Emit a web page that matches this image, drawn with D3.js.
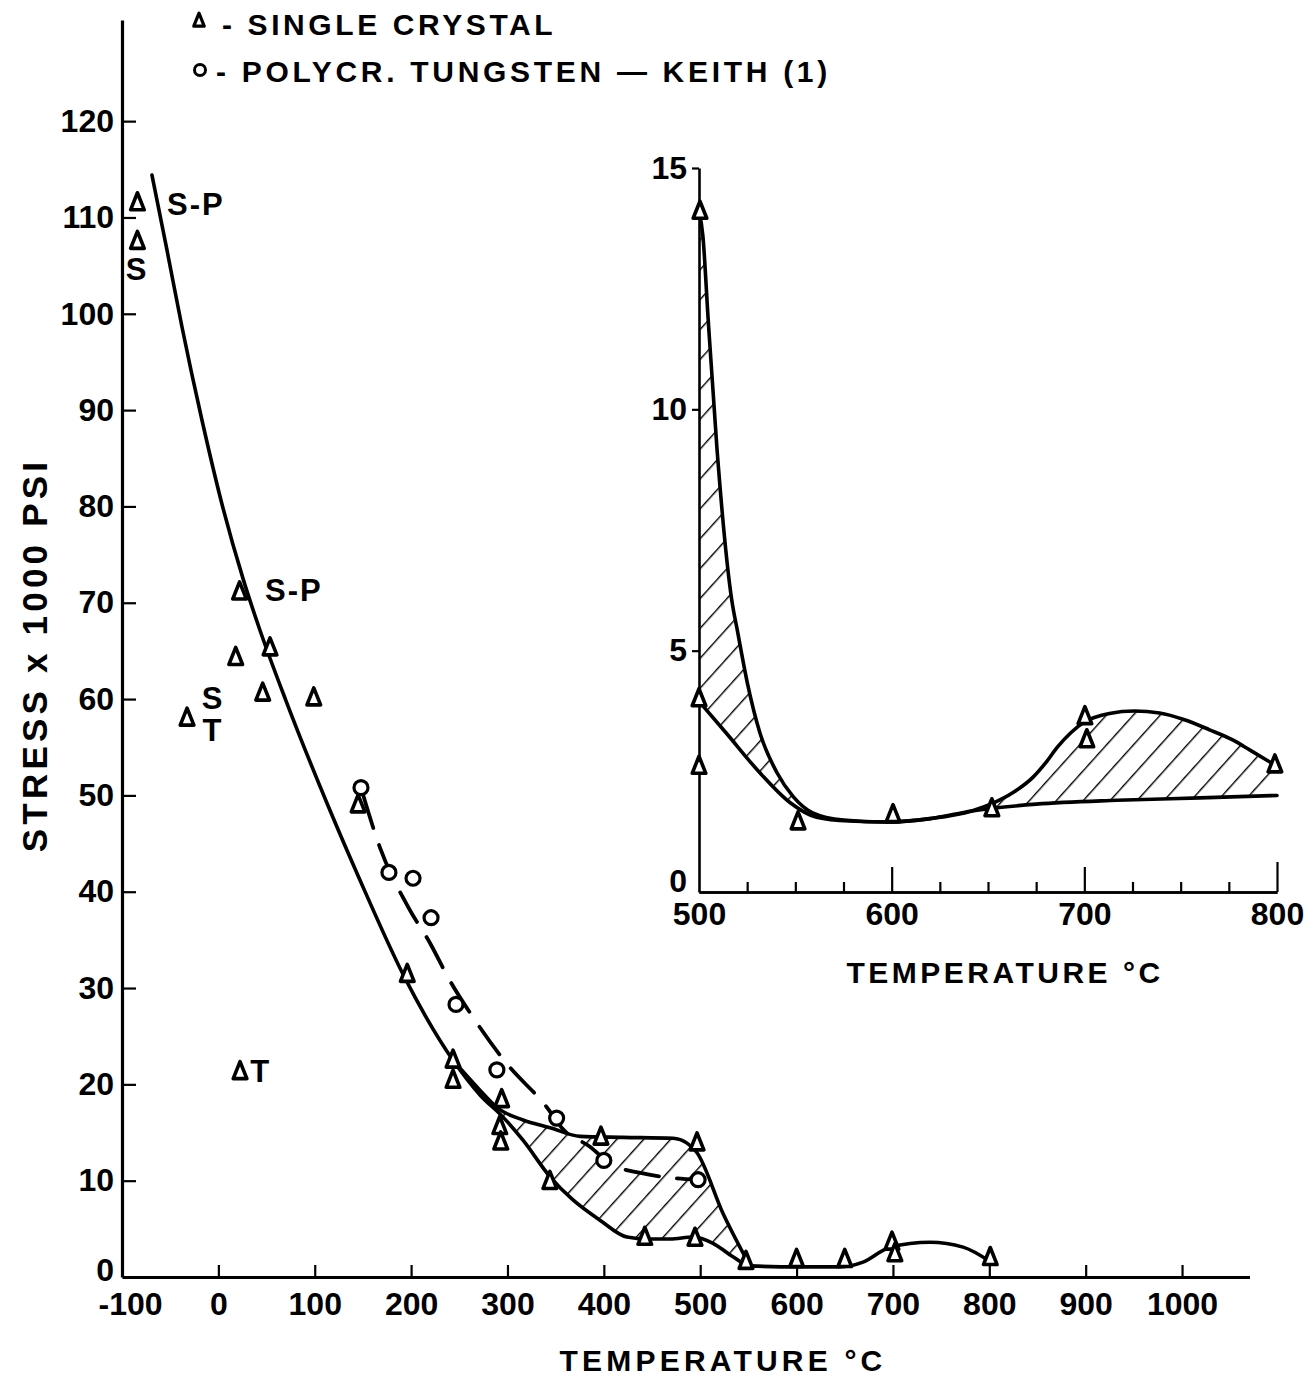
<!DOCTYPE html>
<html><head><meta charset="utf-8">
<script src="https://cdn.jsdelivr.net/npm/d3@7"></script>
<style>
body{margin:0;background:#fff;}
svg{display:block;}
text{font-family:"Liberation Sans",sans-serif;font-weight:bold;fill:#000;}
</style></head>
<body>
<svg id="chart" width="1316" height="1378"></svg>
<script>
// ---------- DATA ----------
// Main chart: x = temperature °C, y = stress x 1000 psi
const mainXTicks = [-100,0,100,200,300,400,500,600,700,800,900,1000];
const mainXTickLabels = ["-100","0","100","200","300","400","500","600","700","800","900","1000"];
const mainYTicks = [0,10,20,30,40,50,60,70,80,90,100,110,120];
const mainYTickLabels = ["0","10","20","30","40","50","60","70","80","90","100","110","120"];

// single crystal points (triangles)
const singleCrystalT = [-84,-84,22,18,53.6,46,99,-32.5,145,22.5,196,243.5,243.5,294,292,293,344,397,442.5,496.7,494.6,547.5,600,650,699,702,801];
const singleCrystalS = [111.5,107.5,71.1,64.3,65.3,60.6,60.1,58,49,21.3,31.4,22.5,20.4,18.4,15.6,14,9.9,14.5,4.1,13.9,4.0,1.6,1.8,1.8,3.6,2.4,2.0];

// polycrystalline tungsten (Keith) points (circles)
const polyT = [148,177,202,220.7,246.6,289,351,400,497.8];
const polyS = [50.8,42.0,41.4,37.3,28.3,21.5,16.5,12.1,10.1];

// main solid curve
const mainCurveT = [-68.9,-53.3,-37.7,-17.1,4.1,25.9,43.0,69.9,113.5,146.1,193.3,243.5,271.5,295.4,316.1,344.2,368,396,424,445,468.7,492.6,513.3,534,551.7,603.6,645,669,697,738.5,772.8,800.8];
const mainCurveS = [114.4,106.6,98.6,89.0,80.1,72.4,67.2,59.9,49.0,41.4,31.1,22.5,18.9,16.6,14.2,10.4,8.0,5.9,4.15,3.95,3.95,4.15,3.5,2.1,1.15,1.05,1.05,1.55,3.1,3.6,3.1,1.6];

// upper envelope of single crystal data
const upperCurveT = [243.5,269.5,290.2,316.1,344.2,375.3,419.9,471.8,486.3,496.7,523.7,551.7];
const upperCurveS = [22.5,19.6,17.5,16.3,15.5,14.6,14.5,14.4,13.9,12.9,6.6,1.15];

// dashed curve through polycrystalline data
const dashT = [148,168,197,220,240,264,298,341,358,386,406,438,470,498];
const dashS = [50.8,44.5,38.4,34.6,30.8,27.0,22.3,17.6,15.3,13.5,11.8,10.8,10.3,10.1];

// annotations (data coordinates)
const annoText = ["S-P","S","S-P","S","T","T"];
const annoT = [-53.3,-84.4,48.4,-5.6,-5.6,44];
const annoS = [111.3,104.6,71.3,60.1,56.7,21.3];

// Inset: 500-800 °C
const insetXTicks = [500,600,700,800];
const insetXTickLabels = ["500","600","700","800"];
const insetXMinor = [525,550,575,625,650,675,725,750,775];
const insetYTicks = [0,5,10,15];
const insetYTickLabels = ["0","5","10","15"];
const insetPtT = [500.5,500,500,551.4,600.7,652,700.3,701.3,798.9];
const insetPtS = [14.1,4.0,2.6,1.45,1.6,1.72,3.63,3.15,2.63];
const insetUpperT = [500,502,504.7,509.3,517,520,525,531.6,540.5,549,559,575,596,620,641.6,652.6,663,673.4,680,686,693,700,713,726,739,752,765,777,786,799];
const insetUpperS = [14.1,13.6,11.9,9.2,6.05,5.4,4.35,3.3,2.47,1.97,1.64,1.49,1.45,1.52,1.68,1.84,2.06,2.38,2.68,3.0,3.3,3.52,3.7,3.75,3.71,3.57,3.36,3.15,2.94,2.63];
const insetLowerT = [500,514,531.6,547,561,578,598,620,641.6,675,717,760,800];
const insetLowerS = [3.95,3.3,2.47,1.86,1.55,1.47,1.45,1.52,1.68,1.82,1.9,1.95,2.0];

// ---------- DRAW ----------
const svg = d3.select("#chart");
const defs = svg.append("defs");
const pat = defs.append("pattern").attr("id","hatch").attr("patternUnits","userSpaceOnUse")
  .attr("width",20).attr("height",20).attr("patternTransform","rotate(42)");
pat.append("line").attr("x1",0).attr("y1",0).attr("x2",0).attr("y2",20)
  .attr("stroke","#000").attr("stroke-width",2.8);

const zip = (a,b) => a.map((v,i)=>[v,b[i]]);
const CURVE = d3.curveMonotoneX;

// Main scales
const x = d3.scaleLinear().domain([-100,1070]).range([122,1249.5]);
const y = d3.scaleLinear().domain([0,130.5]).range([1277,20]);

function styleAxis(g, sw){
  g.attr("font-family",null).attr("font-size",null);
  g.select(".domain").attr("stroke","#000").attr("stroke-width",sw);
  g.selectAll(".tick line").attr("stroke","#000").attr("stroke-width",2.2);
  g.selectAll(".tick text").attr("font-size",32).style("font-family","Liberation Sans").style("font-weight","bold");
}

// axes
const gx = svg.append("g").attr("transform",`translate(0,${y(0)})`)
  .call(d3.axisBottom(x).tickValues(mainXTicks).tickFormat((d,i)=>mainXTickLabels[i]).tickSize(-12).tickSizeOuter(0).tickPadding(15));
const gy = svg.append("g").attr("transform",`translate(${x(-100)},0)`)
  .call(d3.axisLeft(y).tickValues(mainYTicks).tickFormat((d,i)=>mainYTickLabels[i]).tickSize(-14).tickSizeOuter(0).tickPadding(8));
styleAxis(gx,3.2); styleAxis(gy,3.2);
gy.selectAll(".tick").filter(d=>d===0).select("line").remove();
gy.selectAll(".tick").filter(d=>d===0).select("text").attr("dy","0.1em");
gx.selectAll(".tick").filter(d=>d===-100).select("line").remove();
gx.selectAll(".tick text").attr("dy","0.72em");
gx.selectAll(".tick").filter(d=>d===-100).select("text").attr("dx",8);

// hatched area main
const areaUnder = (xs,ys,pts,base) => d3.area().x(d=>xs(d[0])).y0(ys(base)).y1(d=>ys(d[1])).curve(CURVE)(pts);
const areaOver = (xs,ys,pts,top) => d3.area().x(d=>xs(d[0])).y0(ys(top)).y1(d=>ys(d[1])).curve(CURVE)(pts);
const upperPts = zip(upperCurveT,upperCurveS);
const mainPts = zip(mainCurveT,mainCurveS);
defs.append("clipPath").attr("id","cUpMain").append("path").attr("d",areaUnder(x,y,upperPts,0));
defs.append("clipPath").attr("id","cLoMain").append("path").attr("d",areaOver(x,y,mainPts,130));
svg.append("g").attr("clip-path","url(#cUpMain)")
  .append("rect").attr("clip-path","url(#cLoMain)")
  .attr("x",x(-100)).attr("y",y(130)).attr("width",x(1070)-x(-100)).attr("height",y(0)-y(130))
  .attr("fill","url(#hatch)");

const lineGen = (xs,ys) => d3.line().x(d=>xs(d[0])).y(d=>ys(d[1])).curve(CURVE);
svg.append("path").attr("d",lineGen(x,y)(mainPts)).attr("fill","none").attr("stroke","#000").attr("stroke-width",3.6).attr("stroke-linecap","round").attr("stroke-linejoin","round");
svg.append("path").attr("d",lineGen(x,y)(upperPts)).attr("fill","none").attr("stroke","#000").attr("stroke-width",3.6).attr("stroke-linecap","round").attr("stroke-linejoin","round");
svg.append("path").attr("d",lineGen(x,y)(zip(dashT,dashS))).attr("fill","none").attr("stroke","#000").attr("stroke-width",3.8)
  .attr("stroke-dasharray","34,18").attr("stroke-dashoffset",-8).attr("stroke-linecap","round");

// markers
const triType = { draw(ctx, size){ const w=Math.sqrt(size)*0.8, h=Math.sqrt(size); ctx.moveTo(0,-h*0.6); ctx.lineTo(w/2,h*0.4); ctx.lineTo(-w/2,h*0.4); ctx.closePath(); } };
const tri = d3.symbol().type(triType).size(290);
function drawTri(xs,ys,T,S){
  svg.append("g").selectAll("path").data(zip(T,S)).join("path")
    .attr("d",tri).attr("transform",d=>`translate(${xs(d[0])},${ys(d[1])})`)
    .attr("fill","#fff").attr("stroke","#000").attr("stroke-width",3.6).attr("stroke-linejoin","round");
}
drawTri(x,y,singleCrystalT,singleCrystalS);
svg.append("g").selectAll("circle").data(zip(polyT,polyS)).join("circle")
  .attr("cx",d=>x(d[0])).attr("cy",d=>y(d[1])).attr("r",7)
  .attr("fill","#fff").attr("stroke","#000").attr("stroke-width",3.2);

// annotations
svg.append("g").selectAll("text").data(annoText).join("text")
  .attr("x",(d,i)=>x(annoT[i])).attr("y",(d,i)=>y(annoS[i]))
  .attr("text-anchor",(d,i)=>d==="S-P"?"start":"middle")
  .attr("dominant-baseline","central").attr("font-size",31).attr("letter-spacing",2).text(d=>d);

// axis titles
svg.append("text").attr("x",723).attr("y",1371).attr("text-anchor","middle").attr("font-size",30)
  .attr("letter-spacing",4.2).text("TEMPERATURE °C");
svg.append("text").attr("transform","translate(47,655) rotate(-90)").attr("text-anchor","middle")
  .attr("font-size",35).attr("letter-spacing",4.2).text("STRESS x 1000 PSI");

// legend
svg.append("path").attr("d",d3.symbol().type(triType).size(170)).attr("transform","translate(199,21)")
  .attr("fill","#fff").attr("stroke","#000").attr("stroke-width",3.2).attr("stroke-linejoin","round");
svg.append("text").attr("x",222).attr("y",35).attr("font-size",30).attr("letter-spacing",3.6).text("- SINGLE CRYSTAL");
svg.append("circle").attr("cx",200).attr("cy",70).attr("r",5.5).attr("fill","#fff").attr("stroke","#000").attr("stroke-width",3);
svg.append("text").attr("x",216).attr("y",82).attr("font-size",30).attr("letter-spacing",3.7).text("- POLYCR. TUNGSTEN — KEITH (1)");

// ---------- INSET ----------
const xi = d3.scaleLinear().domain([500,800]).range([699,1277]);
const yi = d3.scaleLinear().domain([0,15]).range([892,168]);
const gim = svg.append("g").attr("transform",`translate(0,${yi(0)})`)
  .call(d3.axisBottom(xi).tickValues(insetXMinor).tickFormat("").tickSize(-10).tickSizeOuter(0));
const gix = svg.append("g").attr("transform",`translate(0,${yi(0)})`)
  .call(d3.axisBottom(xi).tickValues(insetXTicks).tickFormat((d,i)=>insetXTickLabels[i]).tickSize(-25).tickSizeOuter(0).tickPadding(10));
const giy = svg.append("g").attr("transform",`translate(${xi(500)},0)`)
  .call(d3.axisLeft(yi).tickValues(insetYTicks).tickFormat((d,i)=>insetYTickLabels[i]).tickSize(7).tickSizeOuter(0).tickPadding(5));
styleAxis(gim,2.6); styleAxis(gix,2.6); styleAxis(giy,2.6);
gix.selectAll(".tick").filter(d=>d===500).select("line").remove();
giy.selectAll(".tick").filter(d=>d===0).select("line").remove();
giy.selectAll(".tick").filter(d=>d===0).select("text").attr("dy","-0.02em");
gix.selectAll(".tick text").attr("dy","0.72em");
gix.selectAll(".tick").filter(d=>d===800).select("line").attr("y2",-30);

const iUp = zip(insetUpperT,insetUpperS), iLo = zip(insetLowerT,insetLowerS);
defs.append("clipPath").attr("id","cUpIn").append("path").attr("d",areaUnder(xi,yi,iUp,0));
defs.append("clipPath").attr("id","cLoIn").append("path").attr("d",areaOver(xi,yi,iLo,15));
svg.append("g").attr("clip-path","url(#cUpIn)")
  .append("rect").attr("clip-path","url(#cLoIn)")
  .attr("x",xi(500)).attr("y",yi(15)).attr("width",xi(800)-xi(500)).attr("height",yi(0)-yi(15))
  .attr("fill","url(#hatch)");
svg.append("path").attr("d",lineGen(xi,yi)(iUp)).attr("fill","none").attr("stroke","#000").attr("stroke-width",3.6).attr("stroke-linecap","round");
svg.append("path").attr("d",lineGen(xi,yi)(iLo)).attr("fill","none").attr("stroke","#000").attr("stroke-width",3.6).attr("stroke-linecap","round");
drawTri(xi,yi,insetPtT,insetPtS);

svg.append("text").attr("x",1005).attr("y",983).attr("text-anchor","middle").attr("font-size",30)
  .attr("letter-spacing",3.5).text("TEMPERATURE °C");
</script>
</body></html>
